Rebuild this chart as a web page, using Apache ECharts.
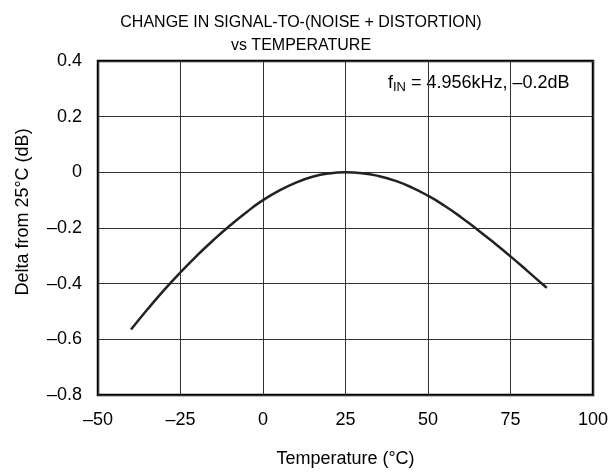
<!DOCTYPE html>
<html>
<head>
<meta charset="utf-8">
<script src="https://cdn.jsdelivr.net/npm/echarts@6/dist/echarts.min.js"></script>
<style>html,body{margin:0;padding:0;background:#fff}#c{width:616px;height:473px}</style>
</head>
<body>
<div id="c"></div>
<script>
var temperatures = [-40,-35,-30,-25,-20,-15,-10,-5,0,5,10,15,20,25,30,35,40,45,50,55,60,65,70,75,80,85,86];
var deltaDb = [-0.565,-0.492,-0.423,-0.359,-0.299,-0.243,-0.191,-0.143,-0.100,-0.065,-0.037,-0.016,-0.004,0,-0.003,-0.013,-0.030,-0.054,-0.084,-0.120,-0.161,-0.206,-0.253,-0.302,-0.353,-0.405,-0.415];
var xTicks = [-50,-25,0,25,50,75,100];
var yTicks = [-0.8,-0.6,-0.4,-0.2,0,0.2,0.4];

var FONT = '"Liberation Sans", Arial, sans-serif';
function fmt(v){ return String(v).replace('-', '\u2013'); }

var chart = echarts.init(document.getElementById('c'), null, {renderer:'canvas'});
chart.setOption({
  animation:false,
  backgroundColor:'#fff',
  title:{
    text:'CHANGE IN SIGNAL-TO-(NOISE + DISTORTION)\nvs TEMPERATURE',
    left:296, top:6, textAlign:'center',
    textStyle:{fontFamily:FONT, fontSize:16, fontWeight:'normal', color:'#000', lineHeight:23}
  },
  grid:{left:98, right:23, top:61, bottom:75, show:true, borderColor:'#000', borderWidth:2.5},
  xAxis:{
    type:'value', min:xTicks[0], max:xTicks[xTicks.length-1], interval:25,
    name:'Temperature (\u00B0C)', nameLocation:'middle', nameGap:55,
    nameTextStyle:{fontFamily:FONT, fontSize:18, color:'#000'},
    axisLine:{show:false}, axisTick:{show:false},
    axisLabel:{formatter:fmt, margin:16, fontFamily:FONT, fontSize:18, color:'#000'},
    splitLine:{lineStyle:{color:'#333', width:1}}
  },
  yAxis:{
    type:'value', min:yTicks[0], max:yTicks[yTicks.length-1], interval:0.2,
    axisLine:{show:false}, axisTick:{show:false},
    axisLabel:{formatter:function(v){return fmt(Math.round(v*10)/10);}, margin:16, fontFamily:FONT, fontSize:18, color:'#000'},
    splitLine:{lineStyle:{color:'#333', width:1}}
  },
  graphic:[
    {type:'text', x:23, y:212, rotation:Math.PI/2,
     style:{text:'Delta from 25\u00B0C (dB)', font:'18px '+FONT, fill:'#000', align:'center', verticalAlign:'middle'}},
    {type:'text', x:388, y:83,
     style:{text:'{f|f}{s|IN}{n| = 4.956kHz, \u20130.2dB}', verticalAlign:'middle', fill:'#000',
       rich:{f:{fontSize:18, fontFamily:FONT, color:'#000'}, s:{fontSize:13, fontFamily:FONT, color:'#000', padding:[9,0,0,0]}, n:{fontSize:18, fontFamily:FONT, color:'#000'}}}}
  ],
  series:[{
    type:'line', data:temperatures.map(function(t,i){return [t, deltaDb[i]];}),
    smooth:0.5, showSymbol:false, lineStyle:{color:'#222', width:2.5}
  }]
});
</script>
</body>
</html>
